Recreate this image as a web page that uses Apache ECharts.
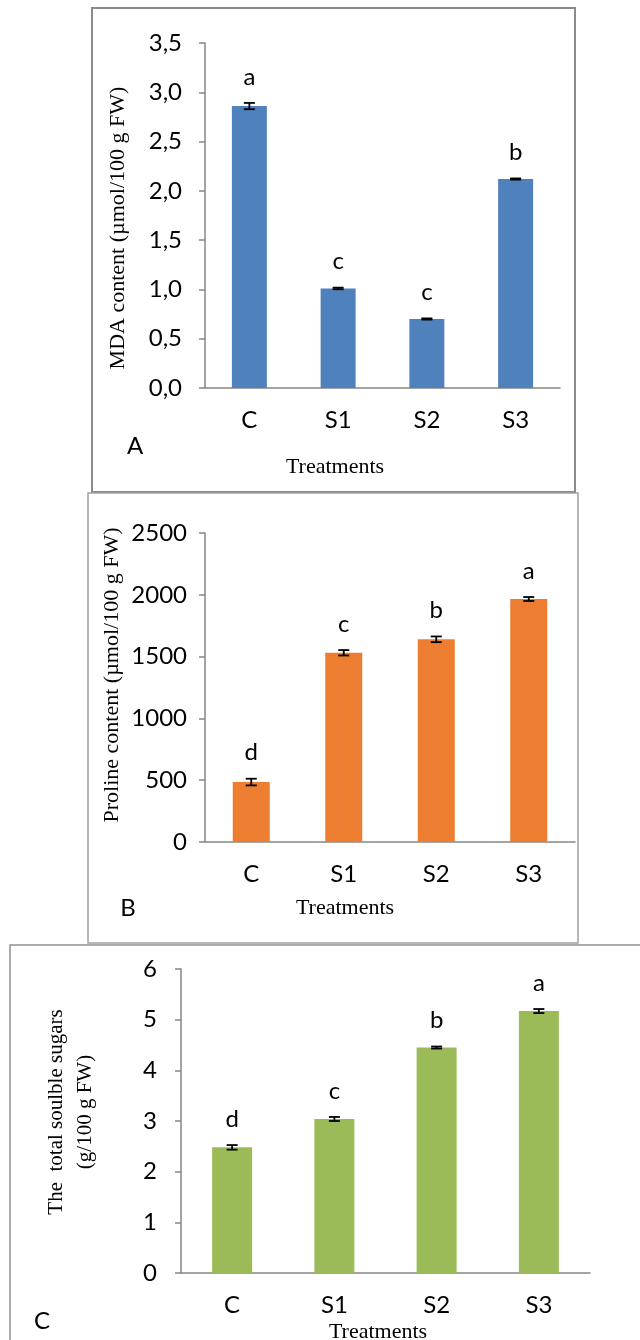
<!DOCTYPE html>
<html>
<head>
<meta charset="utf-8">
<script src="https://cdn.jsdelivr.net/npm/echarts@6/dist/echarts.min.js"></script>
<style>
html, body { margin: 0; padding: 0; background: #fff; }
#main { width: 640px; height: 1340px; }
</style>
</head>
<body>
<div id="main"></div>
<script>
// treatments shared by all three panels
var treatments = ['C', 'S1', 'S2', 'S3'];

// A - MDA content
var mdaValues = [2.86, 1.01, 0.70, 2.12];
var mdaErrors = [0.032, 0.008, 0.006, 0.006];
var mdaLetters = ['a', 'c', 'c', 'b'];
var mdaAxis = [0, 3.5, 0.5];

// B - proline content
var prolineValues = [485, 1531, 1640, 1966];
var prolineErrors = [27, 22, 23, 16];
var prolineLetters = ['d', 'c', 'b', 'a'];
var prolineAxis = [0, 2500, 500];

// C - total soluble sugars
var sugarValues = [2.48, 3.04, 4.45, 5.17];
var sugarErrors = [0.045, 0.04, 0.02, 0.04];
var sugarLetters = ['d', 'c', 'b', 'a'];
var sugarAxis = [0, 6, 1];

var sans = 'Lato';
var serif = '"Liberation Serif"';
var axisGrey = '#868686';
var fs = 24;

function yAxisFor(idx, range, margin, fmt) {
    return {
        type: 'value', gridIndex: idx,
        min: range[0], max: range[1], interval: range[2],
        axisLine: { show: true, lineStyle: { color: axisGrey, width: 1.5 } },
        axisTick: { show: true, length: 6, lineStyle: { color: axisGrey, width: 1.5 } },
        splitLine: { show: false },
        axisLabel: { margin: margin, fontFamily: sans, fontSize: fs, color: '#000', formatter: fmt }
    };
}

function xAxisFor(idx) {
    return {
        type: 'category', gridIndex: idx, data: treatments,
        axisLine: { lineStyle: { color: axisGrey, width: 1.5 } },
        axisTick: { length: 7, interval: 0, lineStyle: { color: axisGrey, width: 1.5 } },
        axisLabel: { margin: 20, fontFamily: sans, fontSize: fs, color: '#000', interval: 0 }
    };
}

function barSeries(idx, values, color, width) {
    return {
        type: 'bar', xAxisIndex: idx, yAxisIndex: idx,
        data: values, barWidth: width,
        itemStyle: { color: color },
        silent: true
    };
}

// error bars plus the significance letter above each one
function errorSeries(idx, values, errors, letters) {
    return {
        type: 'custom', xAxisIndex: idx, yAxisIndex: idx,
        data: values.map(function (v, i) { return [i, v, errors[i]]; }),
        z: 10,
        renderItem: function (params, api) {
            var x = api.value(0), v = api.value(1), e = api.value(2);
            var hi = api.coord([x, v + e]);
            var lo = api.coord([x, v - e]);
            var cap = 5.5;
            var st = { stroke: '#000', lineWidth: 1.8 };
            return {
                type: 'group',
                children: [
                    { type: 'line', shape: { x1: hi[0], y1: hi[1], x2: lo[0], y2: lo[1] }, style: st },
                    { type: 'line', shape: { x1: hi[0] - cap, y1: hi[1], x2: hi[0] + cap, y2: hi[1] }, style: st },
                    { type: 'line', shape: { x1: lo[0] - cap, y1: lo[1], x2: lo[0] + cap, y2: lo[1] }, style: st },
                    { type: 'text', x: hi[0], y: hi[1] - 26,
                      style: { text: letters[params.dataIndex], fill: '#000',
                               font: fs + 'px ' + sans, align: 'center', verticalAlign: 'middle' } }
                ]
            };
        }
    };
}

function label(x, y, text, font, rot) {
    return {
        type: 'text', x: x, y: y, rotation: rot || 0,
        style: { text: text, font: font, fill: '#000', align: 'center', verticalAlign: 'middle', lineHeight: 29 }
    };
}

function frame(x, y, w, h, color, lw) {
    return { type: 'rect', shape: { x: x, y: y, width: w, height: h },
             style: { fill: 'none', stroke: color, lineWidth: lw }, z: -1 };
}

var commaFmt = function (v) { return v.toFixed(1).replace('.', ','); };
var plainFmt = function (v) { return String(v); };

var myChart = echarts.init(document.getElementById('main'));
var option = {
    animation: false,
    grid: [
        { left: 205, top: 43, width: 355, height: 345 },
        { left: 205, top: 533, width: 370, height: 309 },
        { left: 181, top: 969, width: 409, height: 304 }
    ],
    xAxis: [xAxisFor(0), xAxisFor(1), xAxisFor(2)],
    yAxis: [
        yAxisFor(0, mdaAxis, 23, commaFmt),
        yAxisFor(1, prolineAxis, 18, plainFmt),
        yAxisFor(2, sugarAxis, 24, plainFmt)
    ],
    series: [
        barSeries(0, mdaValues, '#4F81BD', 35),
        errorSeries(0, mdaValues, mdaErrors, mdaLetters),
        barSeries(1, prolineValues, '#ED7D31', 37),
        errorSeries(1, prolineValues, prolineErrors, prolineLetters),
        barSeries(2, sugarValues, '#9BBB59', 40),
        errorSeries(2, sugarValues, sugarErrors, sugarLetters)
    ],
    graphic: [
        frame(92, 8, 483, 484, '#8a8a8a', 2),
        frame(88, 493, 490, 450, '#a0a0a0', 1.5),
        frame(10, 945, 700, 500, '#909090', 1.5),
        label(118, 228, 'MDA content (µmol/100 g FW)', '22px ' + serif, Math.PI / 2),
        label(112, 675, 'Proline content (µmol/100 g FW)', '22px ' + serif, Math.PI / 2),
        label(71, 1112, 'The  total soulble sugars\n(g/100 g FW)', '21px ' + serif, Math.PI / 2),
        label(335, 467, 'Treatments', '22px ' + serif),
        label(345, 908, 'Treatments', '22px ' + serif),
        label(378, 1332, 'Treatments', '22px ' + serif),
        label(135, 446, 'A', fs + 'px ' + sans),
        label(128, 908, 'B', fs + 'px ' + sans),
        label(42, 1321, 'C', fs + 'px ' + sans)
    ]
};
myChart.setOption(option);
</script>
</body>
</html>
